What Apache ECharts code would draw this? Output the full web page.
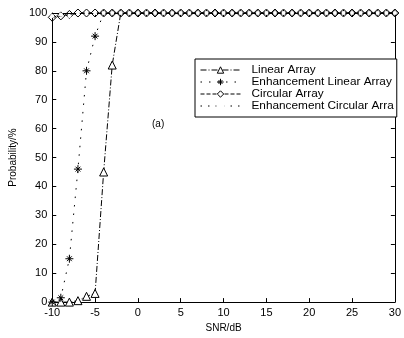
<!DOCTYPE html>
<html><head><meta charset="utf-8">
<script src="https://cdn.jsdelivr.net/npm/echarts@6/dist/echarts.min.js"></script>
<style>html,body{margin:0;padding:0;background:#fff}#c{width:404px;height:338px}</style>
</head><body><div id="c"></div>
<script>
const snr = [-10,-9,-8,-7,-6,-5,-4,-3,-2,-1,0,1,2,3,4,5,6,7,8,9,10,11,12,13,14,15,16,17,18,19,20,21,22,23,24,25,26,27,28,29,30];
const linearArray = [0,0,0,0.5,2,3,45,82,100,100,100,100,100,100,100,100,100,100,100,100,100,100,100,100,100,100,100,100,100,100,100,100,100,100,100,100,100,100,100,100,100];
const enhLinearArray = [0,1.5,15,46,80,92,100,100,100,100,100,100,100,100,100,100,100,100,100,100,100,100,100,100,100,100,100,100,100,100,100,100,100,100,100,100,100,100,100,100,100];
const circularArray = [98.5,99,99.5,100,100,100,100,100,100,100,100,100,100,100,100,100,100,100,100,100,100,100,100,100,100,100,100,100,100,100,100,100,100,100,100,100,100,100,100,100,100];
const enhCircularArray = [99,99.5,99,100,100,100,100,100,100,100,100,100,100,100,100,100,100,100,100,100,100,100,100,100,100,100,100,100,100,100,100,100,100,100,100,100,100,100,100,100,100];
const seriesNames = ['Linear Array','Enhancement Linear Array','Circular Array','Enhancement Circular Arra'];
const xTicks = [-10,-5,0,5,10,15,20,25,30];
const yTicks = [0,10,20,30,40,50,60,70,80,90,100];

const pair = arr => snr.map((x,i)=>[x,arr[i]]);
const font = 'Liberation Sans, Arial, sans-serif';
const star = 'path://M0,-5L0,5M-5,0L5,0M-3,-3L3,3M-3,3L3,-3';
const chart = echarts.init(document.getElementById('c'));
const axisCommon = {
  axisLine:{show:true,onZero:false,lineStyle:{color:'#000',width:1}},
  axisTick:{show:true,inside:true,length:4,lineStyle:{color:'#000'}},
  splitLine:{show:false}
};
const common = {type:'line',clip:false,showAllSymbol:true,showSymbol:true};
chart.setOption({
  backgroundColor:'#fff',
  animation:false,
  grid:{left:45,right:6,top:13,bottom:30},
  xAxis:[
    Object.assign({type:'value',min:-10,max:30,interval:5,position:'bottom',
      name:'SNR/dB',nameLocation:'middle',nameGap:16,
      nameTextStyle:{fontFamily:font,fontSize:10,color:'#000'},
      axisLabel:{fontFamily:font,fontSize:11,color:'#000',margin:5}},axisCommon),
    Object.assign({type:'value',min:-10,max:30,interval:5,position:'top',axisLabel:{show:false}},axisCommon)
  ],
  yAxis:[
    Object.assign({type:'value',min:0,max:100,interval:10,position:'left',
      name:'Probability/%',nameLocation:'middle',nameGap:28,
      nameTextStyle:{fontFamily:font,fontSize:10,color:'#000'},
      axisLabel:{fontFamily:font,fontSize:11,color:'#000',margin:5}},axisCommon),
    Object.assign({type:'value',min:0,max:100,interval:10,position:'right',axisLabel:{show:false}},axisCommon)
  ],
  legend:{
    orient:'vertical',left:195,top:59,
    data:seriesNames,
    backgroundColor:'#fff',borderColor:'#000',borderWidth:1,
    padding:[5,3,5,5],itemGap:0,itemWidth:40,itemHeight:8,
    itemStyle:{color:'#fff',borderColor:'#000',borderWidth:1},
    lineStyle:{width:1},
    textStyle:{fontFamily:font,fontSize:11.8,lineHeight:12,color:'#000',padding:[0,0,0,6]}
  },
  graphic:[{type:'text',left:152,top:119,style:{text:'(a)',font:'10px '+font,fill:'#000'}}],
  series:[
    Object.assign({name:seriesNames[0],data:pair(linearArray),symbol:'triangle',
     symbolSize:(v)=> v[1]>=100 ? 0 : 8,
     lineStyle:{color:'#000',width:1,type:[6,2,1,2]},itemStyle:{color:'#fff',borderColor:'#000',borderWidth:1},z:3},common),
    Object.assign({name:seriesNames[1],data:pair(enhLinearArray),symbol:star,
     symbolSize:(v)=> v[1]>=100 ? 6 : 8,
     lineStyle:{color:'#000',width:1,type:[1.5,7]},itemStyle:{color:'none',borderColor:'#000',borderWidth:1},z:4},common),
    Object.assign({name:seriesNames[2],data:pair(circularArray),symbol:'diamond',symbolSize:8,
     lineStyle:{color:'#000',width:1,type:[4,2]},itemStyle:{color:'none',borderColor:'#000',borderWidth:1},z:5},common),
    Object.assign({name:seriesNames[3],data:pair(enhCircularArray),symbol:'emptyCircle',symbolSize:4,
     lineStyle:{color:'#000',width:1,type:[1.5,6]},itemStyle:{color:'none',borderColor:'#000',borderWidth:1},z:6},common)
  ]
});
</script></body></html>
